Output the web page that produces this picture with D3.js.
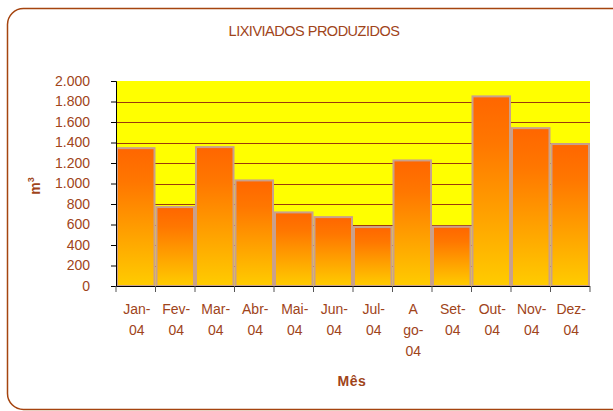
<!DOCTYPE html>
<html>
<head>
<meta charset="utf-8">
<title>Lixiviados produzidos</title>
<style>
  body { margin: 0; background: #fff; }
  text { font-family: "Liberation Sans", Arial, sans-serif; }
</style>
</head>
<body>
<svg width="613" height="411"></svg>
<script src="https://d3js.org/d3.v7.min.js"></script>
<script>
// dados
var meses = ["Jan-04", "Fev-04", "Mar-04", "Abr-04", "Mai-04", "Jun-04", "Jul-04", "Ago-04", "Set-04", "Out-04", "Nov-04", "Dez-04"];
// rótulos quebrados como no original
var rotulos = [["Jan-", "04"], ["Fev-", "04"], ["Mar-", "04"], ["Abr-", "04"], ["Mai-", "04"], ["Jun-", "04"], ["Jul-", "04"], ["A", "go-", "04"], ["Set-", "04"], ["Out-", "04"], ["Nov-", "04"], ["Dez-", "04"]];
var volumes = [1345, 770, 1355, 1030, 718, 672, 575, 1225, 578, 1850, 1540, 1385];
var yTicks = [0, 200, 400, 600, 800, 1000, 1200, 1400, 1600, 1800, 2000];

var corTexto = "#A0441A";
var svg = d3.select("svg");

// moldura
svg.append("rect")
    .attr("x", 7.5).attr("y", 8.5)
    .attr("width", 640).attr("height", 401)
    .attr("rx", 16).attr("ry", 16)
    .attr("fill", "#fff")
    .attr("stroke", "#A5440F")
    .attr("stroke-width", 1.5);

var defs = svg.append("defs");
var grad = defs.append("linearGradient")
    .attr("id", "barra")
    .attr("x1", 0).attr("y1", 0).attr("x2", 0).attr("y2", 1);
grad.append("stop").attr("offset", "0%").attr("stop-color", "#FF6600");
grad.append("stop").attr("offset", "25%").attr("stop-color", "#FF7700");
grad.append("stop").attr("offset", "100%").attr("stop-color", "#FFCC00");

var x = d3.scaleBand().domain(meses).range([116, 590]).padding(0);
var y = d3.scaleLinear().domain([0, 2000]).range([286, 81]);

// área do gráfico
svg.append("rect")
    .attr("x", 116).attr("y", 81)
    .attr("width", 590 - 116).attr("height", 286 - 81)
    .attr("fill", "#FFFF00");

// linhas de grade
svg.append("g")
  .selectAll("line")
  .data(yTicks.filter(function (d) { return d > 0 && d < 2000; }))
  .join("line")
    .attr("x1", 116).attr("x2", 590)
    .attr("y1", function (d) { return Math.round(y(d)) + 0.5; })
    .attr("y2", function (d) { return Math.round(y(d)) + 0.5; })
    .attr("stroke", "#9B3A0A")
    .attr("stroke-width", 1);

// barras
svg.append("g")
  .selectAll("rect")
  .data(volumes)
  .join("rect")
    .attr("x", function (d, i) { return x(meses[i]) + 1; })
    .attr("y", function (d) { return y(d); })
    .attr("width", x.bandwidth() - 2)
    .attr("height", function (d) { return y(0) - y(d); })
    .attr("fill", "url(#barra)")
    .attr("stroke", "#C9A08C")
    .attr("stroke-width", 2);

// eixo y
var eixoY = svg.append("g")
    .attr("transform", "translate(116,0)")
    .call(d3.axisLeft(y).tickValues(yTicks).tickSize(5)
        .tickFormat(function (d) { return d3.format(",")(d).replace(/,/g, "."); }));
eixoY.select(".domain").attr("stroke", "#000");
eixoY.selectAll(".tick line").attr("stroke", "#000");
eixoY.selectAll("text")
    .attr("x", -26)
    .attr("fill", corTexto)
    .style("font-size", "14px");

// eixo x
var eixoX = svg.append("g")
    .attr("transform", "translate(0,286)")
    .call(d3.axisBottom(x).tickSize(0).tickFormat(""));
eixoX.select(".domain").attr("stroke", "#000").attr("d", "M116,0.5H590");
svg.append("g")
  .selectAll("line")
  .data(d3.range(meses.length + 1))
  .join("line")
    .attr("x1", function (i) { return 116 + i * x.bandwidth(); })
    .attr("x2", function (i) { return 116 + i * x.bandwidth(); })
    .attr("y1", 286).attr("y2", 292)
    .attr("stroke", "#555");

svg.append("g")
  .selectAll("text")
  .data(rotulos)
  .join("text")
    .attr("x", function (d, i) { return x(meses[i]) + x.bandwidth() / 2 + 1; })
    .attr("y", 314)
    .attr("text-anchor", "middle")
    .attr("fill", corTexto)
    .style("font-size", "14px")
  .selectAll("tspan")
  .data(function (d) { return d; })
  .join("tspan")
    .attr("x", function () { return d3.select(this.parentNode).attr("x"); })
    .attr("dy", function (d, j) { return j === 0 ? 0 : 21; })
    .text(function (d) { return d; });

// títulos
svg.append("text")
    .attr("x", 314).attr("y", 36)
    .attr("text-anchor", "middle")
    .attr("fill", corTexto)
    .style("font-size", "14.5px")
    .style("letter-spacing", "-0.5px")
    .text("LIXIVIADOS PRODUZIDOS");

svg.append("text")
    .attr("x", 352).attr("y", 386)
    .attr("text-anchor", "middle")
    .attr("fill", corTexto)
    .style("font-size", "14px")
    .style("font-weight", "bold")
    .style("letter-spacing", "0.6px")
    .text("Mês");

var yl = svg.append("text")
    .attr("transform", "translate(40,186) rotate(-90)")
    .attr("text-anchor", "middle")
    .attr("fill", corTexto)
    .style("font-size", "14px")
    .style("font-weight", "bold");
yl.append("tspan").text("m");
yl.append("tspan").attr("dy", -6).style("font-size", "9px").text("3");
</script>
</body>
</html>
